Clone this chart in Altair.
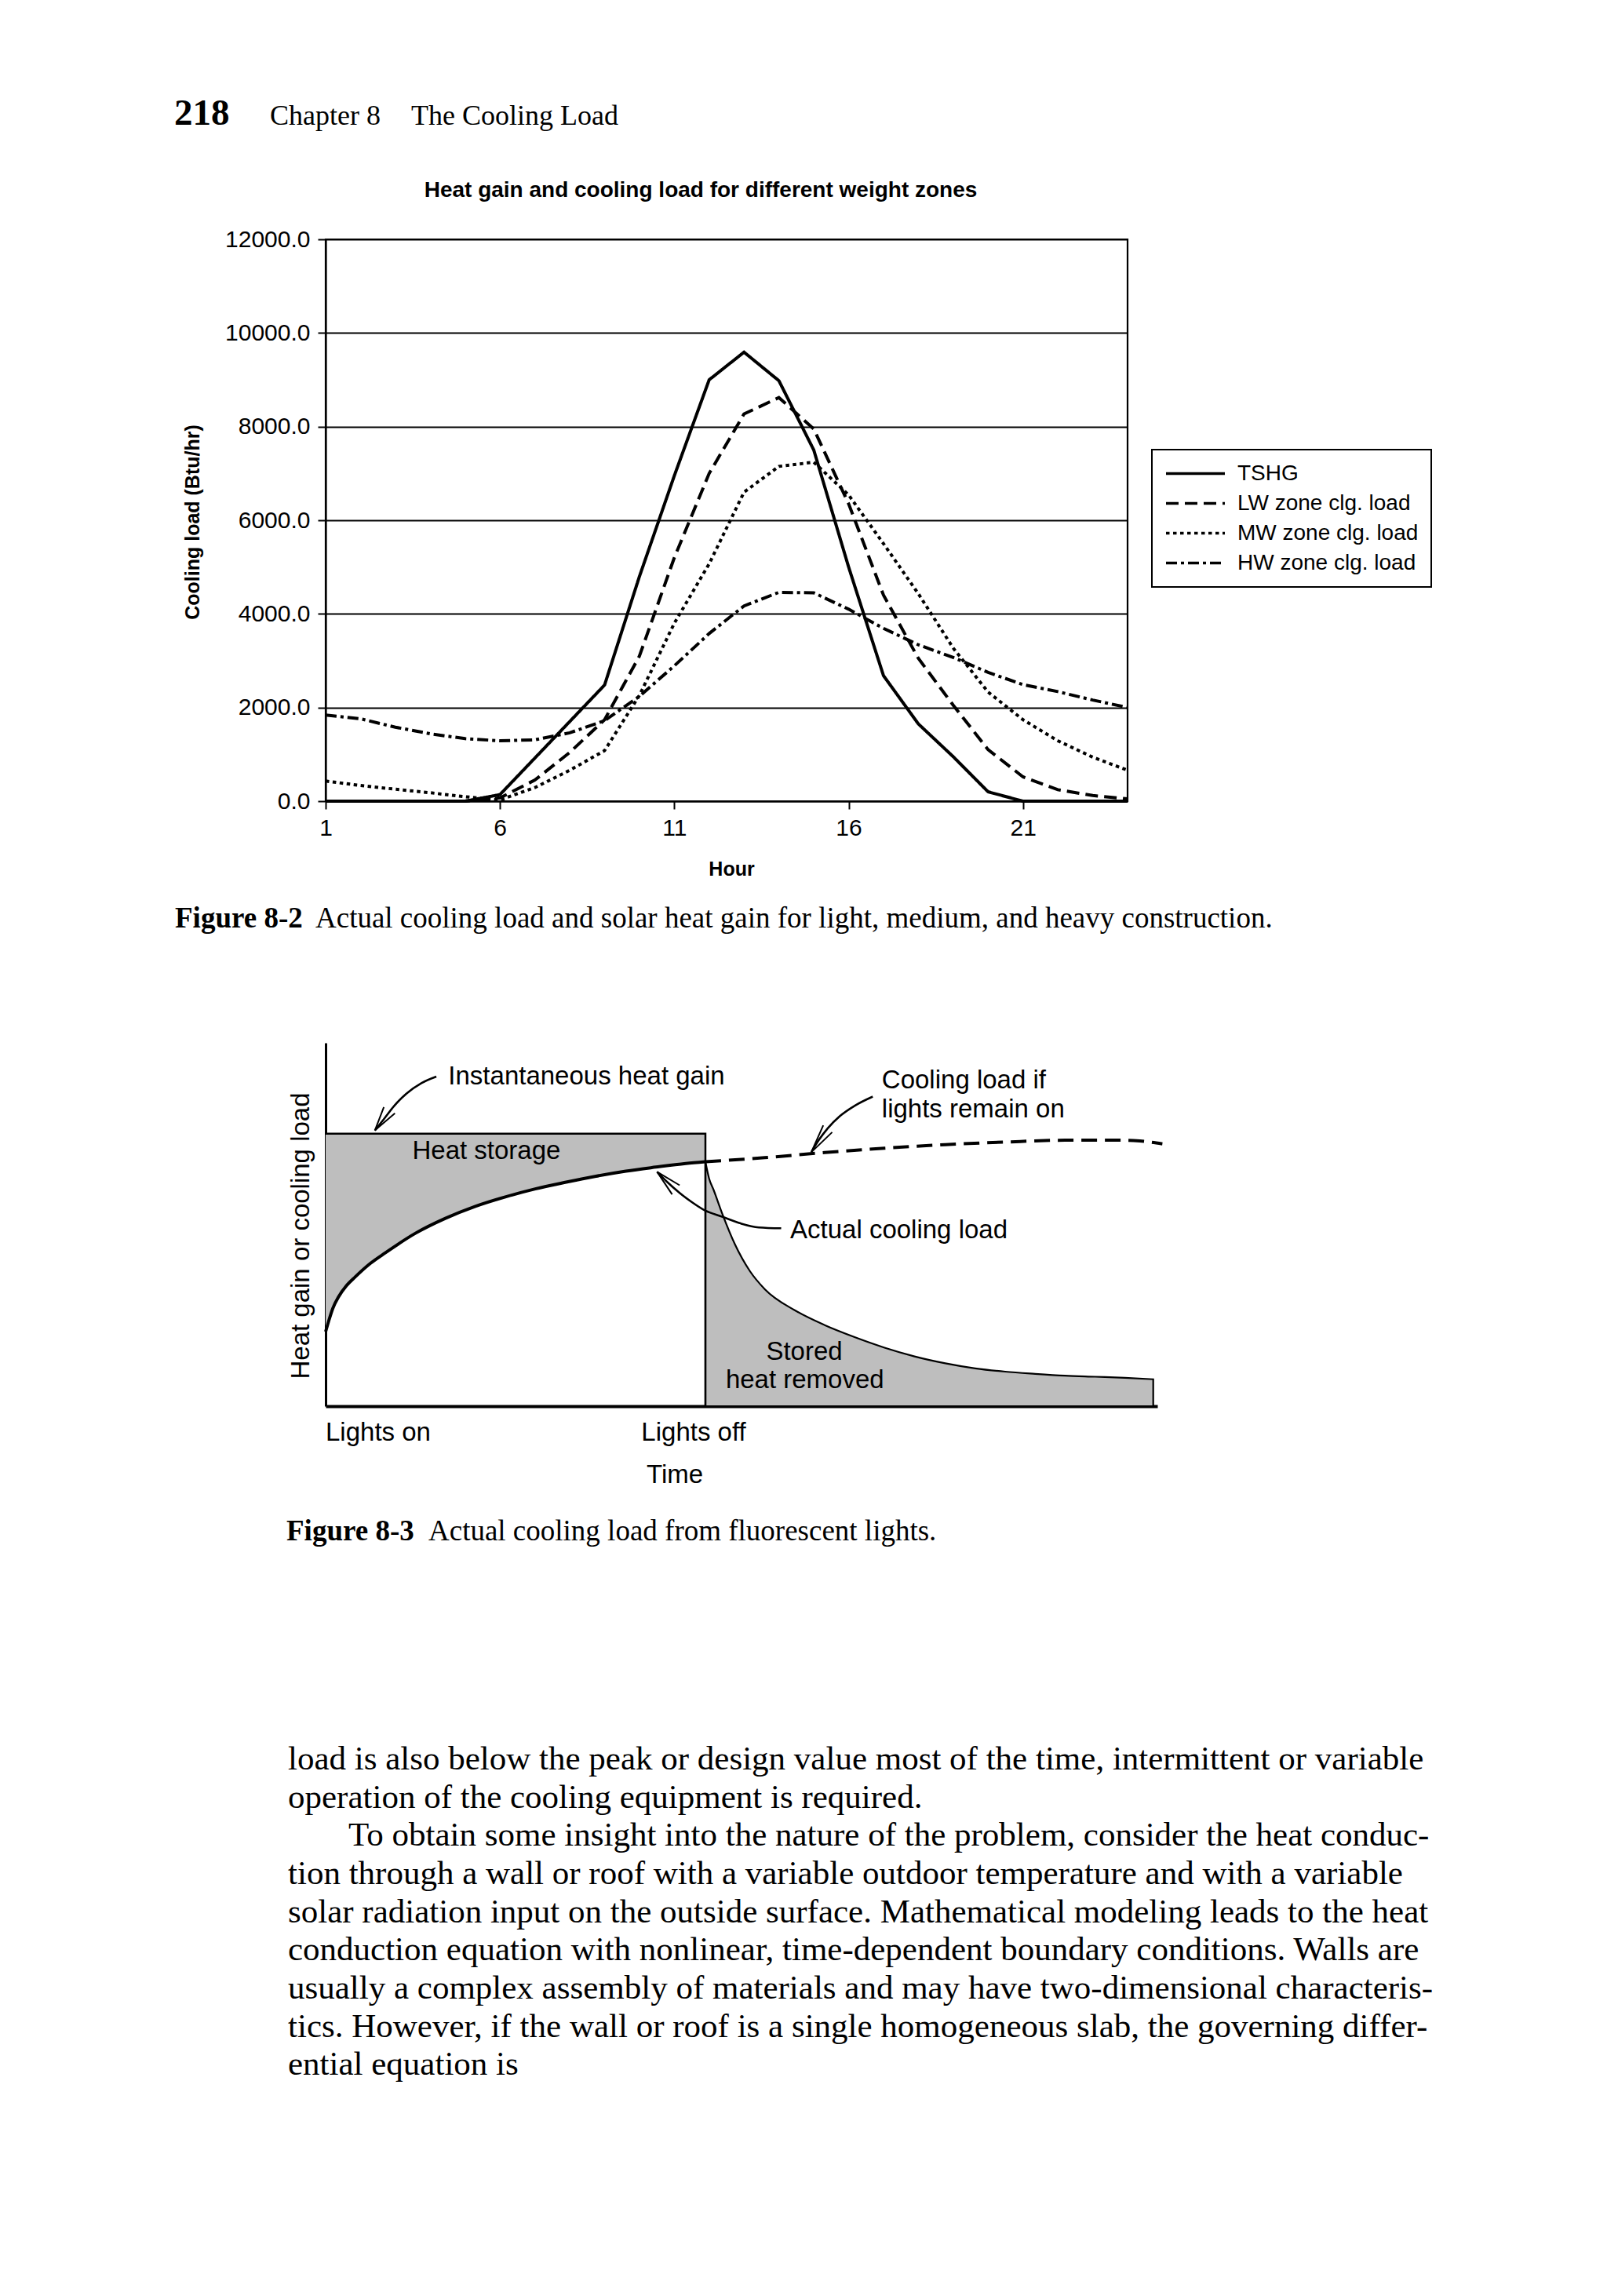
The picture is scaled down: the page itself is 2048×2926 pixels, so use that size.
import altair as alt
import pandas as pd

SANS = "Liberation Sans"
SERIF = "Liberation Serif"

# ---------------- Figure 8-2 data ----------------
hours = list(range(1, 25))
series_names = ["TSHG", "LW zone clg. load", "MW zone clg. load", "HW zone clg. load"]
tshg = [0, 0, 0, 0, 0, 140, 920, 1700, 2480, 4800, 6950, 9000,
        9590, 8980, 7500, 5000, 2680, 1650, 950, 200, 0, 0, 0, 0]
lw = [0, 0, 0, 0, 0, 70, 450, 1040, 1740, 3100, 5200, 7000,
      8270, 8620, 7950, 6350, 4400, 3050, 2050, 1100, 520, 245, 120, 50]
mw = [430, 335, 255, 180, 95, 25, 290, 660, 1080, 2260, 3800, 5070,
      6600, 7150, 7240, 6540, 5500, 4430, 3270, 2330, 1740, 1290, 940, 660]
hw = [1840, 1760, 1580, 1440, 1335, 1290, 1310, 1460, 1720, 2240, 2890, 3580,
      4170, 4460, 4450, 4100, 3690, 3340, 3070, 2750, 2490, 2340, 2160, 2000]
x_ticks = [1, 6, 11, 16, 21]
y_ticks = [0, 2000, 4000, 6000, 8000, 10000, 12000]

# ---------------- Figure 8-3 data (schematic) ----------------
lights_off = 45.66
heat_gain_level = 75.0
rise_t = [0, 0.39, 0.86, 1.58, 2.48, 3.57, 5.38, 7.17, 10.8, 14.4, 18.0, 21.6,
          25.2, 28.8, 32.5, 36.1, 39.7, 43.3, 45.66]
rise_v = [20.5, 23.6, 26.9, 30.2, 33.1, 35.6, 39.3, 42.2, 47.6, 51.7, 55.0, 57.6,
          59.8, 61.6, 63.3, 64.7, 65.8, 66.8, 67.3]
on_t = [45.66, 52.8, 60.0, 67.2, 74.5, 81.7, 88.9, 96.1, 97.9, 100.6]
on_v = [67.3, 68.4, 69.8, 71.0, 72.0, 72.7, 73.2, 73.2, 73.0, 72.2]
decay_t = [45.66, 46.1, 46.65, 47.7, 49.2, 51.0, 52.8, 56.4, 60.0, 63.6, 67.2,
           70.8, 74.5, 78.1, 81.7, 85.3, 88.9, 92.5, 96.1, 99.5]
decay_v = [67.3, 62.7, 59.5, 52.9, 44.6, 37.2, 32.2, 26.4, 22.3, 19.0, 16.1,
           13.7, 11.8, 10.4, 9.5, 8.9, 8.4, 8.1, 7.8, 7.4]
gain_t = [0, lights_off, lights_off]
gain_v = [heat_gain_level, heat_gain_level, 0]

# annotation leader curves and arrow heads
arrow1_t = [13.31, 11.51, 9.71, 8.26, 7.0, 5.92]
arrow1_v = [90.7, 88.9, 86.0, 82.7, 79.0, 75.9]
head1_t = [7.0, 5.92, 8.33]
head1_v = [82.3, 75.9, 80.6]
arrow2_t = [54.77, 52.07, 49.9, 47.74, 45.57, 44.0, 42.56, 41.11, 39.85]
arrow2_v = [48.96, 49.2, 50.3, 52.1, 53.9, 56.2, 58.7, 61.6, 64.5]
head2_t = [41.66, 39.85, 42.56]
head2_v = [58.3, 64.5, 60.8]
arrow3_t = [65.78, 63.62, 61.81, 60.37, 59.28, 58.39]
arrow3_v = [85.2, 82.7, 79.8, 76.5, 73.2, 69.9]
head3_t = [59.83, 58.39, 60.9]
head3_v = [77.3, 69.9, 75.4]

# ---------------- page text ----------------
page_number = "218"
running_head = ["Chapter 8", "The Cooling Load"]
fig2_title = "Heat gain and cooling load for different weight zones"
cap2 = ["Figure 8-2", "Actual cooling load and solar heat gain for light, medium, and heavy construction."]
cap3 = ["Figure 8-3", "Actual cooling load from fluorescent lights."]
body_lines = [
    "load is also below the peak or design value most of the time, intermittent or variable",
    "operation of the cooling equipment is required.",
    "To obtain some insight into the nature of the problem, consider the heat conduc-",
    "tion through a wall or roof with a variable outdoor temperature and with a variable",
    "solar radiation input on the outside surface. Mathematical modeling leads to the heat",
    "conduction equation with nonlinear, time-dependent boundary conditions. Walls are",
    "usually a complex assembly of materials and may have two-dimensional characteris-",
    "tics. However, if the wall or roof is a single homogeneous slab, the governing differ-",
    "ential equation is",
]
indented_line = 2


def one(text):
    return pd.DataFrame({"txt": [text]})


def txt(text, x, y, size, font=SANS, weight="normal", align="left"):
    return alt.Chart(one(text)).mark_text(
        x=x, y=y, fontSize=size, font=font, fontWeight=weight, align=align,
        baseline="alphabetic", color="black"
    ).encode(text="txt:N")


# ---------------- panel 1: Figure 8-2 ----------------
rows = []
for name, vals in zip(series_names, [tshg, lw, mw, hw]):
    for h, v in zip(hours, vals):
        rows.append({"hour": h, "series": name, "load": v})
df1 = pd.DataFrame(rows)

dash_range = [[1, 0], [16, 8], [4.5, 4.5], [14, 5, 4, 5]]

lines = alt.Chart(df1).mark_line(color="black", strokeWidth=4).encode(
    x=alt.X("hour:Q", scale=alt.Scale(domain=[1, 24], nice=False, zero=False),
            axis=alt.Axis(values=x_ticks, title="Hour", labelFlush=False, grid=False,
                          tickSize=10, tickWidth=2, tickColor="black",
                          domainColor="black", domainWidth=2.2,
                          labelFont=SANS, labelFontSize=30, labelColor="black", labelPadding=9,
                          titleFont=SANS, titleFontSize=25, titleFontWeight="bold",
                          titleColor="black", titleX=517, titleY=94.5,
                          titleBaseline="alphabetic", titleAlign="center")),
    y=alt.Y("load:Q", scale=alt.Scale(domain=[0, 12000], nice=False),
            axis=alt.Axis(values=y_ticks, format=".1f", title="Cooling load (Btu/hr)",
                          grid=True, gridColor="black", gridWidth=2.2, gridOpacity=1,
                          tickSize=10, tickWidth=2, tickColor="black",
                          domainColor="black", domainWidth=2.2,
                          labelFont=SANS, labelFontSize=30, labelColor="black", labelPadding=10,
                          titleFont=SANS, titleFontSize=25, titleFontWeight="bold",
                          titleColor="black", titleX=-162, titleY=360, titleAngle=270,
                          titleBaseline="alphabetic", titleAlign="center")),
    strokeDash=alt.StrokeDash(
        "series:N", sort=series_names,
        scale=alt.Scale(domain=series_names, range=dash_range),
        legend=alt.Legend(title=None, orient="none", legendX=1053, legendY=268,
                          symbolType="M-1,0H5", symbolSize=625, symbolStrokeWidth=3.5,
                          symbolStrokeColor="black",
                          labelFont=SANS, labelFontSize=28, labelColor="black",
                          labelOffset=64, labelLimit=500, padding=16, rowPadding=9,
                          strokeColor="black", fillColor="white")),
)

anchor = alt.Chart(one("a")).mark_rule(color="white", strokeWidth=1).encode(
    x=alt.value(-404.5), x2=alt.value(-403.5), y=alt.value(-294.5), y2=alt.value(-293.5)
)

panel1 = alt.layer(
    anchor,
    lines,
    txt(fig2_title, 478, -54, 28, weight="bold", align="center"),
    txt(page_number, -193, -146, 47, font=SERIF, weight="bold"),
    txt(running_head[0], -71, -146, 36, font=SERIF),
    txt(running_head[1], 109, -146, 36, font=SERIF),
    txt(cap2[0], -192, 877, 37, font=SERIF, weight="bold"),
    txt(cap2[1], -13, 877, 37, font=SERIF),
).properties(width=1022, height=716,
             view=alt.ViewBackground(stroke="black", strokeWidth=2.2))

# ---------------- panel 2: Figure 8-3 ----------------
X3 = alt.X("t:Q", scale=alt.Scale(domain=[0, 100], nice=False, zero=False),
           axis=alt.Axis(ticks=False, labels=False, grid=False, domainColor="black", domainWidth=4,
                         title="Time", titleFont=SANS, titleFontSize=33, titleFontWeight="normal",
                         titleColor="black", titleX=444.6, titleY=97.4,
                         titleBaseline="alphabetic", titleAlign="center"))
Y3 = alt.Y("v:Q", scale=alt.Scale(domain=[0, 100], nice=False),
           axis=alt.Axis(ticks=False, labels=False, grid=False, domainColor="black", domainWidth=3,
                         title="Heat gain or cooling load", titleFont=SANS, titleFontSize=33,
                         titleFontWeight="normal", titleColor="black", titleX=-21.5, titleY=245.5,
                         titleAngle=270, titleBaseline="alphabetic", titleAlign="center"))

df_rise = pd.DataFrame({"t": rise_t, "v": rise_v})
df_on = pd.DataFrame({"t": on_t, "v": on_v})
df_decay = pd.DataFrame({"t": decay_t, "v": decay_v})
df_gain = pd.DataFrame({"t": gain_t, "v": gain_v, "k": list(range(len(gain_t)))})

shafts = []
for i, (ts, vs) in enumerate([(arrow1_t, arrow1_v), (arrow2_t, arrow2_v), (arrow3_t, arrow3_v)]):
    for t, v in zip(ts, vs):
        shafts.append({"arrow": i, "t": t, "v": v})
df_shafts = pd.DataFrame(shafts)
heads = []
for i, (ts, vs) in enumerate([(head1_t, head1_v), (head2_t, head2_v), (head3_t, head3_v)]):
    for k, (t, v) in enumerate(zip(ts, vs)):
        heads.append({"arrow": i, "k": k, "t": t, "v": v})
df_heads = pd.DataFrame(heads)

GRAY = "#bebebe"
storage_area = alt.Chart(df_rise).mark_area(color=GRAY, interpolate="monotone").encode(
    x=X3, y=Y3, y2=alt.datum(heat_gain_level))
removed_area = alt.Chart(df_decay).mark_area(
    color=GRAY, stroke="black", strokeWidth=2.2, interpolate="monotone").encode(x=X3, y=Y3)
gain_line = alt.Chart(df_gain).mark_line(color="black", strokeWidth=2.5).encode(
    x=X3, y=Y3, order="k:Q")
rise_line = alt.Chart(df_rise).mark_line(color="black", strokeWidth=4, interpolate="monotone").encode(
    x=X3, y=Y3)
on_line = alt.Chart(df_on).mark_line(color="black", strokeWidth=4, strokeDash=[20, 10],
                                     interpolate="monotone").encode(x=X3, y=Y3)
shaft_lines = alt.Chart(df_shafts).mark_line(color="black", strokeWidth=2.6,
                                             interpolate="monotone").encode(
    x=X3, y=Y3, detail="arrow:N")
head_lines = alt.Chart(df_heads).mark_line(color="black", strokeWidth=2).encode(
    x=X3, y=Y3, detail="arrow:N", order="k:Q")


def dtxt(text, t, v, align="left", size=33, dx=0):
    return alt.Chart(one(text)).mark_text(
        fontSize=size, font=SANS, align=align, baseline="alphabetic", color="black", dx=dx
    ).encode(x=alt.datum(t), y=alt.datum(v), text="txt:N")


def dtxt_px(text, t, ypx, align="left", size=33, dx=0):
    return alt.Chart(one(text)).mark_text(
        fontSize=size, font=SANS, align=align, baseline="alphabetic", color="black", dx=dx
    ).encode(x=alt.datum(t), y=alt.value(ypx), text="txt:N")


layers2 = [
    storage_area, removed_area, gain_line, rise_line, on_line, shaft_lines, head_lines,
    dtxt("Instantaneous heat gain", 14.75, 88.5),
    dtxt("Heat storage", 10.42, 68.0),
    dtxt("Cooling load if", 66.87, 87.5),
    dtxt("lights remain on", 66.87, 79.5),
    dtxt("Actual cooling load", 55.85, 46.3),
    dtxt("Stored", 57.55, 12.85, align="center"),
    dtxt("heat removed", 57.62, 4.99, align="center"),
    dtxt_px("Lights on", 0, 506.9),
    dtxt_px("Lights off", lights_off, 506.9, align="center", dx=-15),
    txt(cap3[0], -50, 634, 37, font=SERIF, weight="bold"),
    txt(cap3[1], 131, 634, 37, font=SERIF),
]
for i, line in enumerate(body_lines):
    x = 29 if i == indented_line else -48
    layers2.append(txt(line, x, 926 + 48.65 * i, 43, font=SERIF))

panel2 = alt.layer(*layers2).properties(width=1060, height=463)

chart = alt.vconcat(panel1, panel2, spacing=308, bounds="flush").properties(
    padding=0, background="white"
).configure_view(stroke="transparent").configure_legend(strokeWidth=2)

chart.save("out.html", embed_options={"renderer": "svg", "actions": False})
